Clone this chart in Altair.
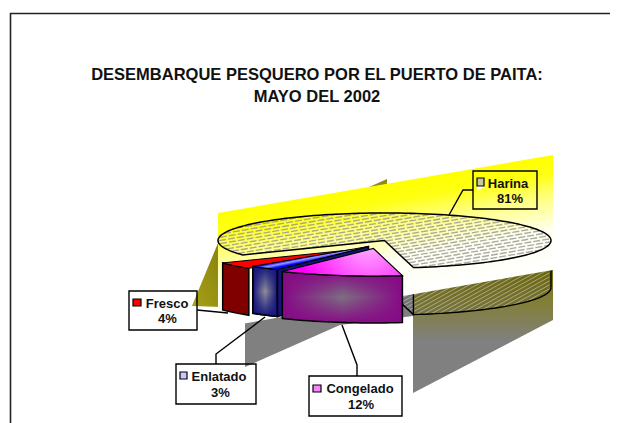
import math
import altair as alt

# ---- data
categories = ["Harina", "Congelado", "Enlatado", "Fresco"]
shares = [81, 12, 3, 4]
title_lines = ["DESEMBARQUE PESQUERO POR EL PUERTO DE PAITA:", "MAYO DEL 2002"]

# ---- pie geometry (oblique view of the disc)
CX, CY, RX, RY, DEPTH = 384.5, 240.5, 166.5, 27.5, 47
START = 10.0
OFFSET = {"Congelado": (-11, 8), "Enlatado": (-16, 6), "Fresco": (-20, 8), "Harina": (0, 0)}

angles = {}
a = START
for name in ["Congelado", "Enlatado", "Fresco", "Harina"]:
    s = shares[categories.index(name)]
    angles[name] = (a, a - s * 3.6)
    a -= s * 3.6


def rim(name, t, drop=0):
    ox, oy = OFFSET[name]
    r = math.radians(t)
    return [CX + ox + RX * math.sin(r), CY + oy + RY * math.cos(r) + drop]


def arc(name, t0, t1, drop=0):
    n = max(2, int(abs(t1 - t0) / 2))
    return [rim(name, t0 + (t1 - t0) * i / n, drop) for i in range(n + 1)]


def apex(name, drop=0):
    ox, oy = OFFSET[name]
    return [CX + ox, CY + oy + drop]


def shape(kind, coords, **mark):
    feature = {"type": "Feature", "properties": {}, "geometry": {"type": kind, "coordinates": coords}}
    return (
        alt.Chart(alt.Data(values=[feature]))
        .mark_geoshape(**mark)
        .project(type="identity", scale=1, translate=[-8, -8])
    )


def poly(points, **mark):
    return shape("Polygon", [points + [points[0]]], **mark)


def line(points, color="black", width=1.4, **mark):
    return shape("LineString", points, filled=False, stroke=color, strokeWidth=width, **mark)


def grad(stops, x1=0, y1=0, x2=1, y2=0):
    return alt.LinearGradient(
        gradient="linear", x1=x1, y1=y1, x2=x2, y2=y2,
        stops=[alt.GradientStop(offset=o, color=c) for o, c in stops],
    )


def hatch(inside, slope, spacing, x0, x1, y0, y1):
    segs = []
    b = y0 - slope * x1 - 200
    while b < y1 - slope * x0 + 200:
        cur = []
        x = x0
        while x <= x1:
            y = slope * x + b
            if inside(x, y):
                cur.append([x, y])
            else:
                if len(cur) > 1:
                    segs.append([cur[0], cur[-1]])
                cur = []
            x += 1
        if len(cur) > 1:
            segs.append([cur[0], cur[-1]])
        b += spacing
    return segs


h0, h1 = angles["Harina"]
cut_right = rim("Harina", START)


def in_top(x, y):
    u, v = (x - CX) / RX, (y - CY) / RY
    if u * u + v * v > 1:
        return False
    t = math.degrees(math.atan2(u, v))
    return not (h0 < t < START)


def in_side(x, y):
    if x > CX + RX - 1:
        return False
    if x >= cut_right[0]:
        u = (x - CX) / RX
        top = CY + RY * math.sqrt(max(0, 1 - u * u))
    elif x >= CX:
        top = CY + (cut_right[1] - CY) * (x - CX) / (cut_right[0] - CX)
    else:
        return False
    return top < y < top + DEPTH


layers = []

# olive shadow pieces behind the band
layers.append(poly([[192, 306], [218, 243], [222, 243], [222, 307]],
                   fill=grad([(0, "#a8a014"), (1, "#87810f")], 0, 1, 1, 0)))
layers.append(poly([[367, 188], [387, 179], [387, 192]], fill="#8f8a14"))
# grey shadow falling below the disc
layers.append(poly([[245, 318], [413, 290], [413, 316], [340, 325], [245, 367]], fill="#808080"))
layers.append(poly([[413, 290], [553, 266], [553, 320], [413, 393]],
                   fill=grad([(0, "#76720f"), (0.3, "#837f3a"), (0.6, "#808080"), (1, "#808080")], 0, 0, 0, 1)))

# side of the Harina slice
side = arc("Harina", 90, START) + [apex("Harina"), apex("Harina", DEPTH)] + arc("Harina", START, 90, DEPTH)
layers.append(poly(side, fill="#000000", fillOpacity=0.10))
layers.append(shape("MultiLineString", hatch(in_side, -0.55, 4, CX, CX + RX, 240, 330),
                    filled=False, stroke="#ffffff", strokeOpacity=0.4, strokeWidth=1))
layers.append(line(arc("Harina", 90, START, DEPTH) + [cut_right, rim("Harina", START, DEPTH), apex("Harina", DEPTH)]))
layers.append(line([rim("Harina", 90), rim("Harina", 90, DEPTH)]))

# yellow band fading to white
layers.append(poly([[218, 213], [553, 155], [553, 270], [218, 328]],
                   fill=grad([(0, "#ffff00"), (0.16, "#ffff14"), (0.36, "#ffff80"), (0.65, "#fffff0"), (1, "#ffffff")],
                             0, 0.335, 0.2, 0.932)))

# Harina top
layers.append(shape("MultiLineString", hatch(in_top, -0.17, 3.2, CX - RX, CX + RX, 205, 275),
                    filled=False, stroke="#8f8f8f", strokeOpacity=0.75, strokeWidth=1.4, strokeDash=[7, 2]))
top_h = [apex("Harina")] + arc("Harina", h0, h1)
layers.append(poly(top_h, filled=False, stroke="black", strokeWidth=1.5))

# Fresco
f0, f1 = angles["Fresco"]
layers.append(poly(arc("Fresco", f0, f1) + arc("Fresco", f1, f0, DEPTH), fill="#800000", stroke="black", strokeWidth=1.5))
layers.append(poly([apex("Fresco")] + arc("Fresco", f0, f1), fill="#ff0000", stroke="black", strokeWidth=1))

# Enlatado
e0, e1 = angles["Enlatado"]
layers.append(poly([apex("Enlatado"), rim("Enlatado", e0), rim("Enlatado", e0, DEPTH), apex("Enlatado", DEPTH)],
                   fill="#14147a", stroke="black", strokeWidth=1.5))
face = arc("Enlatado", e0, e1) + arc("Enlatado", e1, e0, DEPTH)
layers.append(poly(face, fill=grad([(0, "#15157e"), (0.5, "#8f8f98"), (1, "#15157e")]), stroke="black", strokeWidth=1.5))
layers.append(poly(face, fill=grad([(0, "#15157eff"), (0.5, "#15157e00"), (1, "#15157eff")], 0, 0, 0, 1)))
layers.append(line(face + [face[0]], width=1.5))
layers.append(poly([apex("Enlatado")] + arc("Enlatado", e0, e1),
                   fill=grad([(0.45, "#0000ff"), (0.5, "#9a9aff"), (0.56, "#0000ff")], 0, 0, 1, 1),
                   stroke="black", strokeWidth=1))

# Congelado
c0, c1 = angles["Congelado"]
face = arc("Congelado", c0, c1) + arc("Congelado", c1, c0, DEPTH)
layers.append(poly(face, fill=grad([(0, "#860a86"), (0.5, "#7c7080"), (1, "#860a86")])))
layers.append(poly(face, fill=grad([(0, "#860a86ff"), (0.5, "#860a8600"), (1, "#860a86ff")], 0, 0, 0, 1)))
layers.append(line(face + [face[0]], width=1.5))
layers.append(poly([apex("Congelado")] + arc("Congelado", c0, c1),
                   fill=alt.RadialGradient(gradient="radial", x1=0.72, y1=0.3, x2=0.72, y2=0.3, r1=0, r2=0.6,
                                           stops=[alt.GradientStop(offset=0, color="#ffc0ff"),
                                                  alt.GradientStop(offset=1, color="#ff00ff")]),
                   stroke="black", strokeWidth=1.2))

# chart frame
layers.append(line([[10.5, 425], [10.5, 13.5], [620, 13.5]], color="#222222", width=1.6))

# leader lines
layers.append(line([[197, 310], [228, 313]]))
layers.append(line([[216, 364], [216, 354], [265, 317]]))
layers.append(line([[342, 325], [357, 365], [357, 376]]))
layers.append(line([[449, 215], [463, 190], [473, 190]]))


def box(x0, y0, x1, y1):
    return poly([[x0, y0], [x1, y0], [x1, y1], [x0, y1]], filled=False, stroke="black", strokeWidth=1.4)


def label(text, cx, base, size=13):
    return alt.Chart(alt.Data(values=[{"t": text}])).mark_text(
        font="Liberation Sans", fontWeight="bold", fontSize=size, color="#111111",
        align="center", baseline="alphabetic",
    ).encode(text="t:N", x=alt.value(cx - 8), y=alt.value(base - 8))


def pct(name):
    return f"{shares[categories.index(name)]}%"


# label boxes, keys and texts
layers.append(box(473, 171, 537, 209))
layers.append(poly([[477, 186], [485, 186], [477, 191]], fill="#ffffff"))
layers.append(poly([[477, 178], [484, 178], [484, 186], [477, 186]], fill="#c9c9a0", stroke="black", strokeWidth=1.2))
layers.append(label("Harina", 508, 188))
layers.append(label(pct("Harina"), 510, 203))

layers.append(box(129, 291, 197, 330))
layers.append(poly([[133, 299], [141, 299], [141, 306], [133, 306]], fill="#ff0000", stroke="black", strokeWidth=1.2))
layers.append(label("Fresco", 167, 308))
layers.append(label(pct("Fresco"), 167.5, 323))

layers.append(box(176, 364, 256, 404))
layers.append(poly([[180, 372], [187, 372], [187, 379], [180, 379]], fill="#c8c8ff", stroke="black", strokeWidth=1.2))
layers.append(label("Enlatado", 219, 381))
layers.append(label(pct("Enlatado"), 220.5, 397))

layers.append(box(309, 376, 402, 416))
layers.append(poly([[313, 385], [321, 385], [321, 392], [313, 392]], fill="#ff80ff", stroke="black", strokeWidth=1.2))
layers.append(label("Congelado", 360, 393))
layers.append(label(pct("Congelado"), 361, 409))

chart = alt.layer(*layers).properties(
    width=602,
    height=415,
    padding=0,
    autosize=alt.AutoSizeParams(type="none"),
    background="white",
    title=alt.TitleParams(
        text=title_lines, font="Liberation Sans", fontWeight="bold", fontSize=16.5, color="#111111",
        lineHeight=22, anchor="middle", baseline="alphabetic", dx=8, dy=110, offset=0,
    ),
).configure_view(stroke=None)

chart.save("out.html", embed_options={"renderer": "svg", "actions": False})
